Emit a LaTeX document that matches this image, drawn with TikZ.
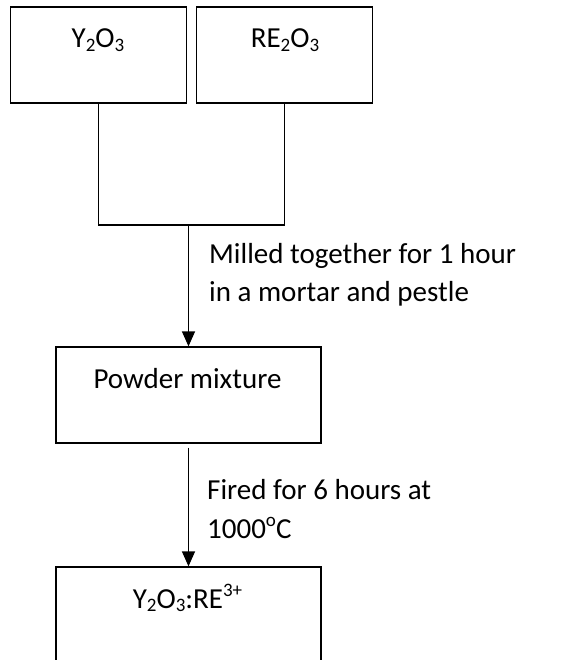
\documentclass[tikz,border=0pt]{standalone}
\usepackage{fontspec}
\setmainfont{Carlito}
\usetikzlibrary{arrows.meta}

% small lowered / raised figures for the chemical formulas
\newcommand\chemsub[1]{\raisebox{-0.12em}{\fontsize{19}{19}\selectfont #1}}
\newcommand\chemsup[1]{\raisebox{0.42em}{\fontsize{19}{19}\selectfont #1}}

\begin{document}
\begin{tikzpicture}[x=1pt,y=-1pt,
  stepbox/.style={draw,line width=1.3pt,minimum height=96pt,inner sep=0pt},
  boxtext/.style={anchor=base,inner sep=0pt},
  note/.style={anchor=base west,inner sep=0pt,align=left},
  link/.style={line width=1.5pt},
  flow/.style={line width=1.4pt,-{Triangle[length=15pt,width=13pt]}},
  every node/.style={font=\fontsize{29}{38.5}\selectfont}]
\path[use as bounding box,clip] (0,0) rectangle (569,660);

% starting oxides
\node[stepbox,minimum width=176pt] (b1) at (98.5,55) {};
\node[stepbox,minimum width=176pt] (b2) at (284.5,55) {};
\node[boxtext] (t1) at (98,47.7) {Y\chemsub{2}O\chemsub{3}};
\node[boxtext] (t2) at (285,47.7) {RE\chemsub{2}O\chemsub{3}};

% milling step
\coordinate (m) at (188.5,225);
\draw[link] (b1.south) |- (m) -| (b2.south);
\node[stepbox,minimum width=265pt] (pm) at (188.5,395) {};
\node[boxtext] (tp) at (187.5,388) {Powder mixture};
\draw[flow] (m) -- (pm.north);
% the base of a two-line note is the baseline of its last line
\node[note] (n1) at (209,301.8) {Milled together for 1 hour\\in a mortar and pestle};

% firing step
\node[stepbox,minimum width=265pt] (pr) at (188.5,615) {};
\node[boxtext] (tr) at (187.5,608.3) {Y\chemsub{2}O\chemsub{3}:RE\chemsup{3+}};
\draw[flow,shorten <=4pt] (pm.south) -- (pr.north);
\node[note] (n2) at (207,538.3) {Fired for 6 hours at\\1000\chemsup{o}C};
\end{tikzpicture}
\end{document}
